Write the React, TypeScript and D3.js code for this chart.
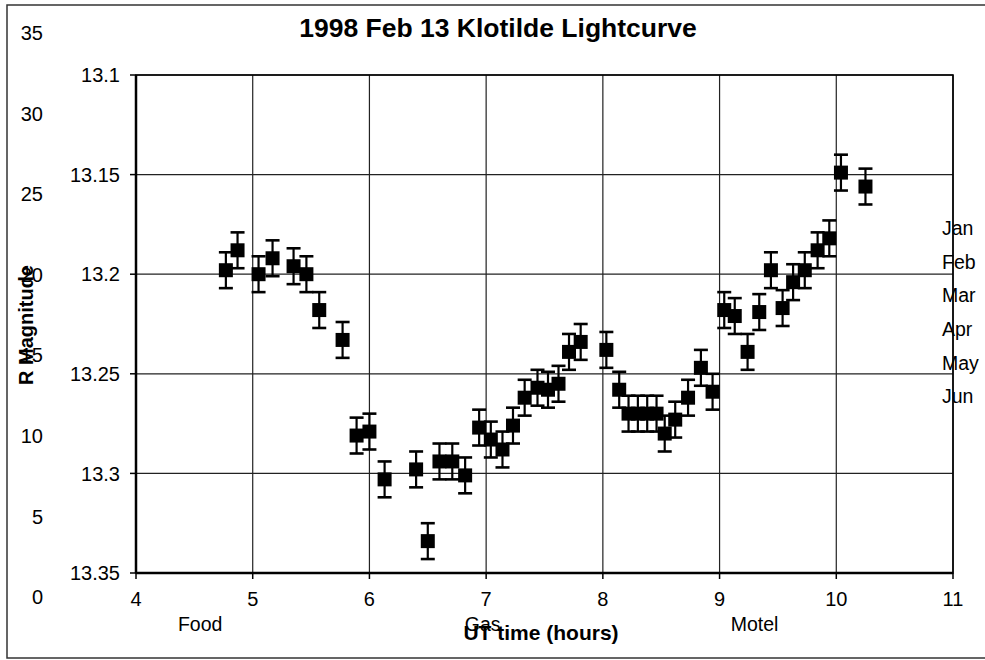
import React from "react";
import * as d3 from "d3";

// UT time (hours)
const times = [
  4.77, 4.87, 5.05, 5.17, 5.35, 5.46, 5.57, 5.77, 5.89, 6.0,
  6.13, 6.4, 6.5, 6.6, 6.71, 6.82, 6.94, 7.04, 7.14, 7.23,
  7.33, 7.44, 7.53, 7.62, 7.71, 7.81, 8.03, 8.14, 8.22, 8.3,
  8.38, 8.46, 8.53, 8.62, 8.73, 8.84, 8.94, 9.04, 9.13, 9.24,
  9.34, 9.44, 9.54, 9.63, 9.73, 9.84, 9.94, 10.04, 10.25,
];
// R magnitude
const mags = [
  13.198, 13.188, 13.2, 13.192, 13.196, 13.2, 13.218, 13.233, 13.281, 13.279,
  13.303, 13.298, 13.334, 13.294, 13.294, 13.301, 13.277, 13.283, 13.288, 13.276,
  13.262, 13.257, 13.258, 13.255, 13.239, 13.234, 13.238, 13.258, 13.27, 13.27,
  13.27, 13.27, 13.28, 13.273, 13.262, 13.247, 13.259, 13.218, 13.221, 13.239,
  13.219, 13.198, 13.217, 13.204, 13.198, 13.188, 13.182, 13.149, 13.156,
];
const errorBar = 0.009;

const xTicks = [4, 5, 6, 7, 8, 9, 10, 11];
const yTicks = [13.1, 13.15, 13.2, 13.25, 13.3, 13.35];
const yTickLabels = ["13.1", "13.15", "13.2", "13.25", "13.3", "13.35"];
const leftTicks = [0, 5, 10, 15, 20, 25, 30, 35];
const months = ["Jan", "Feb", "Mar", "Apr", "May", "Jun"];
const catLabels = ["Food", "Gas", "Motel"];
const catX = [4.55, 6.97, 9.3];

const FONT = "'Liberation Sans', Arial, Helvetica, sans-serif";

export default function App() {
  const x = d3.scaleLinear().domain([4, 11]).range([136, 953]);
  const y = d3.scaleLinear().domain([13.1, 13.35]).range([75, 573]);
  const yL = d3.scaleLinear().domain([0, 35]).range([597, 33]);
  const monthY = d3.scaleBand<string>().domain(months).range([211, 413]);

  const sq = 14;
  const cap = 7;

  return (
    <svg
      width={985}
      height={660}
      style={{ position: "absolute", left: 0, top: 0, background: "#fff" }}
      fontFamily={FONT}
    >
      <rect x={0} y={0} width={985} height={660} fill="#fff" />
      {/* outer frame */}
      <rect x={7} y={5} width={990} height={653} fill="none" stroke="#333" strokeWidth={1.5} />

      {/* title */}
      <text x={498} y={37} textAnchor="middle" fontSize={26.5} fontWeight="bold">
        1998 Feb 13 Klotilde Lightcurve
      </text>

      {/* gridlines */}
      {xTicks.map((t) => (
        <line key={"gx" + t} x1={x(t)} x2={x(t)} y1={y(13.1)} y2={y(13.35)} stroke="#222" strokeWidth={1.2} />
      ))}
      {yTicks.map((t) => (
        <line key={"gy" + t} x1={x(4)} x2={x(11)} y1={y(t)} y2={y(t)} stroke="#222" strokeWidth={1.2} />
      ))}

      {/* plot border */}
      <rect x={x(4)} y={y(13.1)} width={x(11) - x(4)} height={y(13.35) - y(13.1)} fill="none" stroke="#000" strokeWidth={1.6} />
      <line x1={x(4)} x2={x(4)} y1={y(13.1)} y2={y(13.35)} stroke="#000" strokeWidth={2.5} />
      <line x1={x(4)} x2={x(11)} y1={y(13.35)} y2={y(13.35)} stroke="#000" strokeWidth={2.5} />

      {/* ticks */}
      {xTicks.map((t) => (
        <g key={"tx" + t}>
          <line x1={x(t)} x2={x(t)} y1={y(13.35)} y2={y(13.35) + 6} stroke="#000" strokeWidth={1.5} />
          <text x={x(t)} y={606} textAnchor="middle" fontSize={20}>
            {t}
          </text>
        </g>
      ))}
      {yTicks.map((t, i) => (
        <g key={"ty" + t}>
          <line x1={x(4) - 6} x2={x(4)} y1={y(t)} y2={y(t)} stroke="#000" strokeWidth={1.5} />
          <text x={120} y={y(t)} dy="0.36em" textAnchor="end" fontSize={20}>
            {yTickLabels[i]}
          </text>
        </g>
      ))}
      {leftTicks.map((t) => (
        <text key={"l" + t} x={43} y={yL(t)} dy="0.36em" textAnchor="end" fontSize={20}>
          {t}
        </text>
      ))}

      {/* month labels */}
      {months.map((m) => (
        <text key={m} x={942} y={(monthY(m) as number) + monthY.bandwidth() / 2} dy="0.36em" fontSize={19.5}>
          {m}
        </text>
      ))}

      {/* category labels */}
      {catLabels.map((c, i) => (
        <text key={c} x={x(catX[i])} y={631} textAnchor="middle" fontSize={19.5}>
          {c}
        </text>
      ))}

      {/* axis titles */}
      <text x={541} y={640} textAnchor="middle" fontSize={21} fontWeight="bold">
        UT time (hours)
      </text>
      <text transform="translate(33,325) rotate(-90)" textAnchor="middle" fontSize={20} fontWeight="bold">
        R Magnitude
      </text>

      {/* data with error bars */}
      {times.map((t, i) => {
        const cx = x(t);
        const cy = y(mags[i]);
        const yTop = y(mags[i] - errorBar);
        const yBot = y(mags[i] + errorBar);
        return (
          <g key={"p" + i}>
            <line x1={cx} x2={cx} y1={yTop} y2={yBot} stroke="#000" strokeWidth={2.2} />
            <line x1={cx - cap} x2={cx + cap} y1={yTop} y2={yTop} stroke="#000" strokeWidth={2.6} />
            <line x1={cx - cap} x2={cx + cap} y1={yBot} y2={yBot} stroke="#000" strokeWidth={2.6} />
            <rect x={cx - sq / 2} y={cy - sq / 2} width={sq} height={sq} fill="#000" />
          </g>
        );
      })}
    </svg>
  );
}
